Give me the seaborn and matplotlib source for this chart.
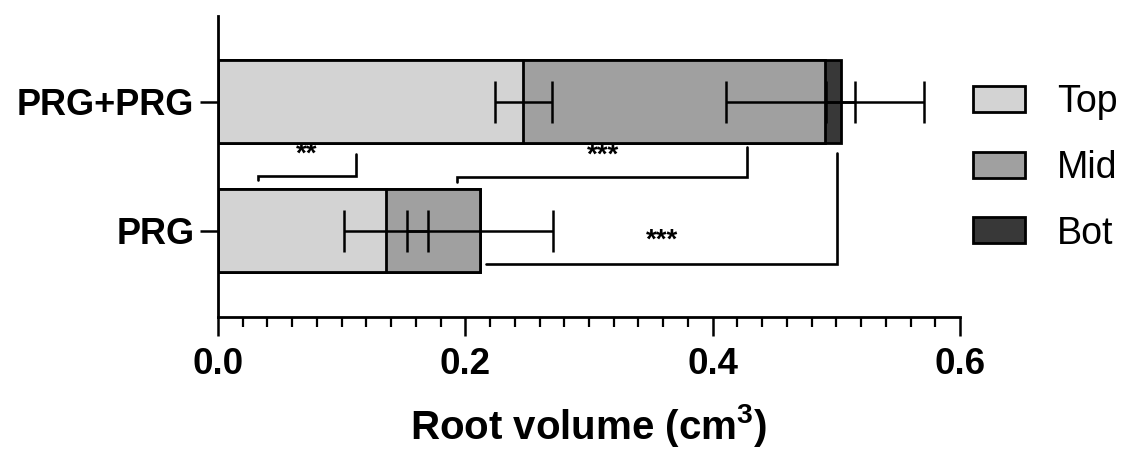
import matplotlib
matplotlib.use("Agg")
import matplotlib.pyplot as plt
from matplotlib.ticker import MultipleLocator
from matplotlib.patches import Patch
import seaborn as sns
import numpy as np
import pandas as pd

# ---- data ----
categories = ["PRG+PRG", "PRG"]
layers = ["Top", "Mid", "Bot"]
top_vals = [0.247, 0.136]
mid_vals = [0.244, 0.0755]
bot_vals = [0.0125, 0.0]
top_err = [0.023, 0.034]
mid_err = [0.080, 0.059]
bot_err = [0.0115, 0.0]
colors = ["#d3d3d3", "#a0a0a0", "#383838"]

# significance brackets
sig_x_left = [0.0321, 0.1935, 0.2167]
sig_x_right = [0.1116, 0.428, 0.5003]
sig_y_line = [0.574, 0.580, 1.260]
sig_y_arm = [0.407, 0.347, 0.399]
sig_y_tick = [0.605, 0.622, 1.260]
sig_labels = ["**", "***", "***"]
sig_label_x = [0.072, 0.3117, 0.3588]
sig_label_y = [0.407, 0.415, 1.079]

sns.set_style("ticks")
plt.rcParams["font.family"] = ["Liberation Sans", "DejaVu Sans"]
plt.rcParams["mathtext.default"] = "regular"
for k in ["text.color", "axes.labelcolor", "xtick.color", "ytick.color", "axes.edgecolor"]:
    plt.rcParams[k] = "black"

fig = plt.figure(figsize=(11.22, 4.5), dpi=100)
ax = fig.add_axes([218 / 1122, 1 - 316.7 / 450, (960 - 218) / 1122, (316.7 - 16) / 450])

top = np.array(top_vals)
mid = np.array(mid_vals)
bot = np.array(bot_vals)
cum_top = top
cum_mid = top + mid
cum_bot = top + mid + bot

df = pd.DataFrame({"cat": categories, "Top": cum_top, "Mid": cum_mid, "Bot": cum_bot})
bar_h = 0.643
for layer, col in zip(["Bot", "Mid", "Top"], colors[::-1]):
    sns.barplot(data=df, x=layer, y="cat", orient="h", color=col, edgecolor="black",
                linewidth=2.0, width=bar_h, ax=ax, saturation=1, zorder=2)

ypos = np.arange(len(categories))
ekw = dict(fmt="none", ecolor="black", elinewidth=1.8, capsize=14.8, capthick=1.8, zorder=5)
ax.errorbar(cum_top, ypos, xerr=top_err, **ekw)
ax.errorbar(cum_mid, ypos, xerr=mid_err, **ekw)
ax.errorbar(cum_bot[:1], ypos[:1], xerr=bot_err[:1], **ekw)

for xl, xr, yl, ya, yt, lab, lx, ly in zip(sig_x_left, sig_x_right, sig_y_line, sig_y_arm,
                                            sig_y_tick, sig_labels, sig_label_x, sig_label_y):
    ax.plot([xl, xl, xr, xr], [yt, yl, yl, ya], color="black", lw=1.9, zorder=4,
            solid_joinstyle="miter", clip_on=False)
    ax.text(lx, ly, lab, ha="center", va="center", fontsize=20, fontweight="bold")

ax.set_xlim(0, 0.6)
ax.set_ylim(1.665, -0.665)
ax.xaxis.set_major_locator(MultipleLocator(0.2))
ax.xaxis.set_minor_locator(MultipleLocator(0.02))
ax.xaxis.set_major_formatter(matplotlib.ticker.FormatStrFormatter("%.1f"))
sns.despine(ax=ax)
for s in ["left", "bottom"]:
    ax.spines[s].set_linewidth(2.0)
    ax.spines[s].set_color("black")
ax.tick_params(axis="x", which="major", length=14, width=1.8, pad=8, labelsize=26.5, colors="black")
ax.tick_params(axis="x", which="minor", length=7, width=1.6, colors="black")
ax.tick_params(axis="y", which="major", length=13, width=1.8, pad=4, labelsize=26, colors="black")
for lab in ax.get_xticklabels() + ax.get_yticklabels():
    lab.set_fontweight("bold")
ax.set_ylabel("")
ax.set_xlabel("Root volume (cm$^3$)", fontsize=29, fontweight="bold", labelpad=14, color="black")

handles = [Patch(facecolor=c, edgecolor="black", linewidth=2.0) for c in colors]
fig.legend(handles, layers, loc="center left", bbox_to_anchor=(972.7 / 1122, 1 - 168 / 450),
           frameon=False, fontsize=27, handlelength=1.39, handleheight=0.69,
           handletextpad=0.85, labelspacing=0.79, borderpad=0, borderaxespad=0)

fig.savefig("out.png", dpi=100)
